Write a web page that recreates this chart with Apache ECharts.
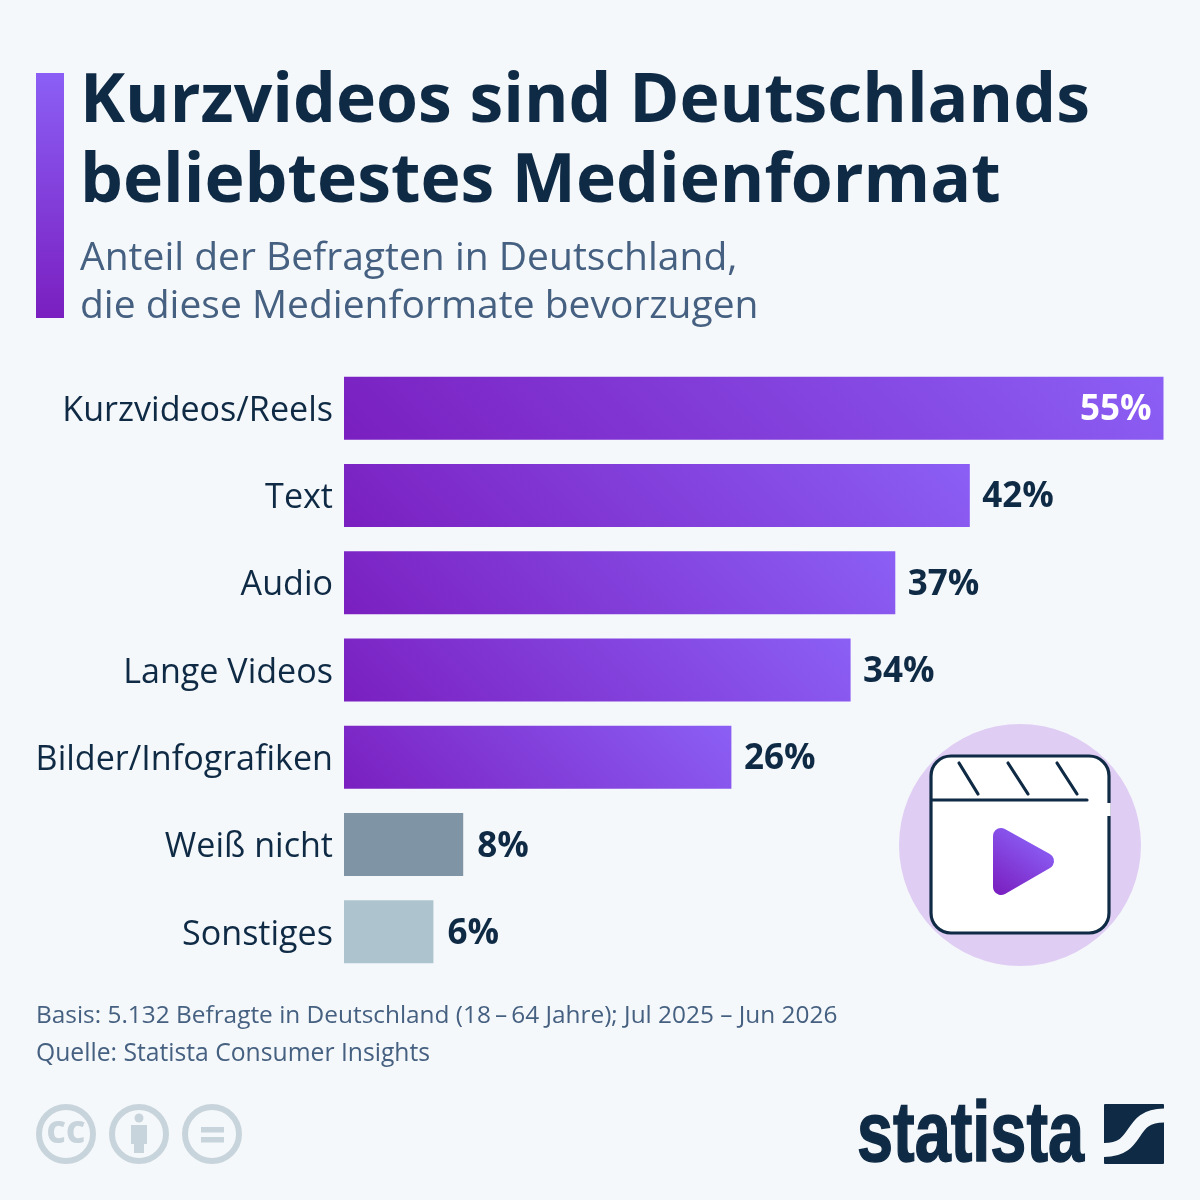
<!DOCTYPE html>
<html lang="de">
<head>
<meta charset="utf-8">
<title>Kurzvideos sind Deutschlands beliebtestes Medienformat</title>
<style>
html,body{margin:0;padding:0;background:#f5f8fb}
#chart{width:1200px;height:1200px}
</style>
<script src="https://cdn.jsdelivr.net/npm/echarts@6/dist/echarts.min.js"></script>
</head>
<body>
<div id="chart"></div>
<script>
const categories = ['Kurzvideos/Reels', 'Text', 'Audio', 'Lange Videos', 'Bilder/Infografiken', 'Weiß nicht', 'Sonstiges'];
const shares = [55, 42, 37, 34, 26, 8, 6];
const flatColours = { 'Weiß nicht': '#7f95a5', 'Sonstiges': '#adc4ce' };
const titleLines = 'Kurzvideos sind Deutschlands\nbeliebtestes Medienformat';
const subtitleLines = 'Anteil der Befragten in Deutschland,\ndie diese Medienformate bevorzugen';
const basisLine = 'Basis: 5.132 Befragte in Deutschland (18\u2009–\u200964 Jahre); Jul 2025 – Jun 2026';
const sourceLine = 'Quelle: Statista Consumer Insights';

const NAVY = '#0f2a44';
const SLATE = '#456080';
const PAPER = '#f5f8fb';
const ICON_GREY = '#c8d4db';
const FONT = '"Open Sans","Noto Sans",sans-serif';
const GRID_WIDTH = 819.5;
const BAR_HEIGHT = 63;
const AXIS_MAX = 55;
const purple = (x, y, x2, y2) => new echarts.graphic.LinearGradient(x, y, x2, y2, [
  { offset: 0, color: '#7a1fc0' }, { offset: 1, color: '#8b5ff5' }
]);
// Gradient running at a true 45 degrees on screen, whatever the bar's length.
const barGradient = (value) => {
  const w = value / AXIS_MAX * GRID_WIDTH;
  const reach = (w + BAR_HEIGHT) / 4;
  return purple(0.5 - reach / w, 0.5 + reach / BAR_HEIGHT, 0.5 + reach / w, 0.5 - reach / BAR_HEIGHT);
};

const chart = echarts.init(document.getElementById('chart'), null, { renderer: 'canvas' });

// Clapperboard badge, licence icons and logo mark are drawn as plain shapes.
const iconLine = { stroke: NAVY, lineWidth: 3.2, fill: null, lineCap: 'round' };
const ring = (cx) => ({ type: 'circle', shape: { cx, cy: 1134, r: 27 }, style: { fill: null, stroke: ICON_GREY, lineWidth: 6 } });

const decorations = [
  { type: 'rect', shape: { x: 36, y: 73, width: 28, height: 245 }, style: { fill: purple(0, 1, 0, 0) } },
  { type: 'circle', shape: { cx: 1020, cy: 845, r: 121 }, style: { fill: '#dfcdf3' } },
  { type: 'rect', shape: { x: 931, y: 756, width: 178, height: 177, r: 20 }, style: { fill: '#fff', stroke: NAVY, lineWidth: 3.2 } },
  { type: 'rect', shape: { x: 1107, y: 803, width: 3.7, height: 13 }, style: { fill: '#fff' } },
  { type: 'line', shape: { x1: 932, y1: 800, x2: 1087, y2: 800 }, style: iconLine },
  { type: 'line', shape: { x1: 959, y1: 763, x2: 978, y2: 794 }, style: iconLine },
  { type: 'line', shape: { x1: 1008, y1: 763, x2: 1028, y2: 794 }, style: iconLine },
  { type: 'line', shape: { x1: 1057, y1: 763, x2: 1077, y2: 794 }, style: iconLine },
  { type: 'polygon', shape: { points: [[1001, 836], [1046, 861], [1001, 887]] },
    style: { fill: purple(0.1, 1, 0.75, 0.15), stroke: purple(0.1, 1, 0.75, 0.15), lineWidth: 16, lineJoin: 'round' } },
  ring(66), ring(139), ring(212),
  { type: 'text', style: { x: 66, y: 1134, text: 'CC', align: 'center', verticalAlign: 'middle', fill: ICON_GREY, font: '800 30px ' + FONT } },
  { type: 'circle', shape: { cx: 139, cy: 1118, r: 4.5 }, style: { fill: ICON_GREY } },
  { type: 'rect', shape: { x: 131, y: 1125, width: 16, height: 19 }, style: { fill: ICON_GREY } },
  { type: 'rect', shape: { x: 134, y: 1140, width: 10, height: 13 }, style: { fill: ICON_GREY } },
  { type: 'rect', shape: { x: 201, y: 1127, width: 23, height: 5.5 }, style: { fill: ICON_GREY } },
  { type: 'rect', shape: { x: 201, y: 1137, width: 23, height: 5.5 }, style: { fill: ICON_GREY } },
  { type: 'text', x: 857, y: 1137, scaleX: 0.754, scaleY: 1,
    style: { x: 0, y: 0, text: 'statista', align: 'left', verticalAlign: 'middle', fill: NAVY, stroke: NAVY, lineWidth: 1.5, font: 'bold 86px "Liberation Sans",sans-serif' } },
  { type: 'rect', shape: { x: 1104, y: 1104, width: 60, height: 60, r: 1 }, style: { fill: NAVY } },
  { type: 'bezierCurve', shape: { x1: 1104, y1: 1150, cpx1: 1141, cpy1: 1150, cpx2: 1127, cpy2: 1115.5, x2: 1164, y2: 1115.5 },
    style: { fill: null, stroke: PAPER, lineWidth: 14 } }
];

const titleBlock = (text, left, top, fontWeight, fontSize, lineHeight, color) => ({
  text, left, top, padding: 0, textStyle: { fontFamily: FONT, fontWeight, fontSize, lineHeight, color }
});

chart.setOption({
  backgroundColor: PAPER,
  animation: false,
  title: [
    titleBlock(titleLines, 80, 63, 700, 67.9, 80, NAVY),
    titleBlock(subtitleLines, 80, 235, 400, 39, 48, SLATE),
    titleBlock(basisLine, 36, 1000, 400, 24.4, 32, SLATE),
    titleBlock(sourceLine, 36, 1038, 400, 24.7, 32, SLATE)
  ],
  grid: { left: 344, top: 364.5, width: GRID_WIDTH, height: 611, containLabel: false },
  xAxis: { type: 'value', min: 0, max: AXIS_MAX, show: false },
  yAxis: {
    type: 'category',
    inverse: true,
    data: categories,
    axisLine: { show: false },
    axisTick: { show: false },
    // A short line box anchored at its top edge sets the labels just under the bar centre.
    axisLabel: { fontFamily: FONT, fontSize: 34.1, color: NAVY, margin: 11, verticalAlign: 'top', lineHeight: 6 }
  },
  series: [{
    type: 'bar',
    barWidth: BAR_HEIGHT,
    data: shares.map((value, i) => ({
      value,
      itemStyle: { color: flatColours[categories[i]] || barGradient(value) },
      label: value === AXIS_MAX
        ? { position: 'insideRight', distance: 12, color: '#fff' }
        : { position: 'right', distance: value < 10 ? 14 : 12.5, color: NAVY }
    })),
    label: { show: true, formatter: '{c}%', fontFamily: FONT, fontWeight: 700, fontSize: 35, offset: [0, 2] }
  }],
  graphic: { elements: decorations }
});
</script>
</body>
</html>
